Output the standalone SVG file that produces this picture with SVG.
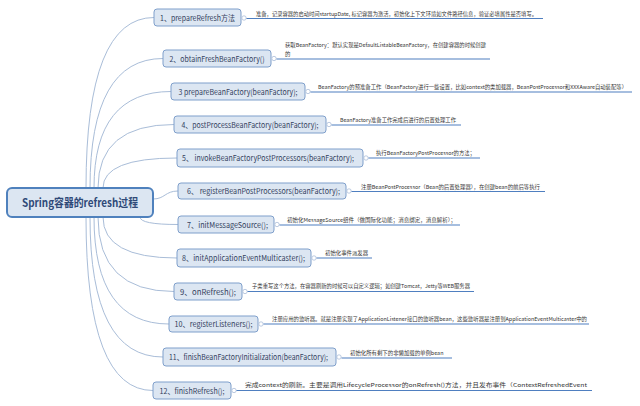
<svg xmlns="http://www.w3.org/2000/svg" width="640" height="406" viewBox="0 0 640 406">
<style>
text{font-family:"Noto Sans CJK SC","Liberation Sans",sans-serif}
.bg{fill:#ffffff}
.con{fill:none;stroke:#a9bdd8;stroke-width:1}
.box{fill:#dce6f2;stroke:#7f9fcb;stroke-width:1}
.root{fill:#dce6f2;stroke:#4f81bd;stroke-width:2}
.lbl{font-size:8px;fill:#34425e;text-anchor:middle}
.rootlbl{font-size:11px;font-weight:bold;fill:#2f4a78;text-anchor:middle}
.note{font-size:5.4px;fill:#333333}
.ul{stroke:#4f7fc0;stroke-width:1.1;fill:none}
.dot{fill:#ffffff;stroke:#a9bdd8;stroke-width:0.8}
</style>
<rect class="bg" x="0" y="0" width="640" height="406"/>
<g id="connectors">
<path class="con" d="M86,188 Q86,17.5 154,17.5"/>
<path class="con" d="M90,188 Q90,58.5 163,58.5"/>
<path class="con" d="M94,188 Q94,91.5 171,91.5"/>
<path class="con" d="M98,188 Q98,124.5 174,124.5"/>
<path class="con" d="M103,188 Q103,158 177,158"/>
<path class="con" d="M153,199 C165,199 165,191 178,191"/>
<path class="con" d="M140,217 Q140,224.5 178,224.5"/>
<path class="con" d="M103,217 Q103,258 177,258"/>
<path class="con" d="M98,217 Q98,291.5 174,291.5"/>
<path class="con" d="M94,217 Q94,324 169,324"/>
<path class="con" d="M90,217 Q90,357 163,357"/>
<path class="con" d="M86,217 Q86,390.5 153,390.5"/>
</g>
<g id="root">
<rect class="root" x="7" y="188" width="146" height="29" rx="5"/>
<text class="rootlbl" x="80" y="206.5" textLength="116" lengthAdjust="spacingAndGlyphs">Spring容器的refresh过程</text>
</g>
<g id="n1">
<rect class="box" x="154" y="9" width="87" height="17" rx="3"/>
<text class="lbl" x="197.5" y="20.5" textLength="75" lengthAdjust="spacingAndGlyphs">1、prepareRefresh方法</text>
<circle class="dot" cx="244" cy="18" r="2.2"/>
<line class="ul" x1="246.5" y1="18.5" x2="543" y2="18.5"/>
<text class="note" x="256" y="15.5" textLength="281" lengthAdjust="spacingAndGlyphs">准备，记录容器的启动时间startupDate, 标记容器为激活，初始化上下文环境如文件路径信息，验证必填属性是否填写。</text>
</g>
<g id="n2">
<rect class="box" x="163" y="50" width="108" height="17" rx="3"/>
<text class="lbl" x="217" y="61.5" textLength="95" lengthAdjust="spacingAndGlyphs">2、obtainFreshBeanFactory()</text>
<circle class="dot" cx="274" cy="58.5" r="2.2"/>
<line class="ul" x1="276.5" y1="59" x2="490" y2="59"/>
<text class="note" x="285" y="47" textLength="201" lengthAdjust="spacingAndGlyphs">获取BeanFactory：默认实现是DefaultListableBeanFactory，在创建容器的时候创建</text>
<text class="note" x="285" y="55.5">的</text>
</g>
<g id="n3">
<rect class="box" x="171" y="83" width="134" height="17" rx="3"/>
<text class="lbl" x="238" y="94.5" textLength="119" lengthAdjust="spacingAndGlyphs">3 prepareBeanFactory(beanFactory);</text>
<circle class="dot" cx="308" cy="91.5" r="2.2"/>
<line class="ul" x1="310.5" y1="92" x2="632" y2="92"/>
<text class="note" x="318" y="88.5" textLength="309" lengthAdjust="spacingAndGlyphs">BeanFactory的预准备工作（BeanFactory进行一些设置，比如context的类加载器，BeanPostProcessor和XXXAware自动装配等）</text>
</g>
<g id="n4">
<rect class="box" x="174" y="116" width="152" height="17" rx="3"/>
<text class="lbl" x="250" y="127.5" textLength="137" lengthAdjust="spacingAndGlyphs">4、postProcessBeanFactory(beanFactory);</text>
<circle class="dot" cx="329" cy="124.5" r="2.2"/>
<line class="ul" x1="331.5" y1="125" x2="461" y2="125"/>
<text class="note" x="340" y="121.5" textLength="116" lengthAdjust="spacingAndGlyphs">BeanFactory准备工作完成后进行的后置处理工作</text>
</g>
<g id="n5">
<rect class="box" x="177" y="149" width="186" height="18" rx="3"/>
<text class="lbl" x="268" y="161" textLength="172" lengthAdjust="spacingAndGlyphs">5、 invokeBeanFactoryPostProcessors(beanFactory);</text>
<circle class="dot" cx="366" cy="158" r="2.2"/>
<line class="ul" x1="368.5" y1="158" x2="480" y2="158"/>
<text class="note" x="376" y="155" textLength="99" lengthAdjust="spacingAndGlyphs">执行BeanFactoryPostProcessor的方法；</text>
</g>
<g id="n6">
<rect class="box" x="178" y="183" width="168" height="16" rx="3"/>
<text class="lbl" x="263.5" y="194" textLength="153" lengthAdjust="spacingAndGlyphs">6、  registerBeanPostProcessors(beanFactory);</text>
<circle class="dot" cx="349" cy="191" r="2.2"/>
<line class="ul" x1="351.5" y1="191.5" x2="545" y2="191.5"/>
<text class="note" x="361" y="188.5" textLength="179" lengthAdjust="spacingAndGlyphs">注册BeanPostProcessor（Bean的后置处理器），在创建bean的前后等执行</text>
</g>
<g id="n7">
<rect class="box" x="178" y="216" width="96" height="17" rx="3"/>
<text class="lbl" x="227.5" y="227.5" textLength="81" lengthAdjust="spacingAndGlyphs">7、initMessageSource();</text>
<circle class="dot" cx="277" cy="224.5" r="2.2"/>
<line class="ul" x1="279.5" y1="225" x2="460" y2="225"/>
<text class="note" x="287" y="221.5" textLength="169" lengthAdjust="spacingAndGlyphs">初始化MessageSource组件（做国际化功能；消息绑定，消息解析）；</text>
</g>
<g id="n8">
<rect class="box" x="177" y="249" width="134" height="18" rx="3"/>
<text class="lbl" x="243.5" y="261" textLength="123" lengthAdjust="spacingAndGlyphs">8、initApplicationEventMulticaster();</text>
<circle class="dot" cx="314" cy="258" r="2.2"/>
<line class="ul" x1="316.5" y1="258" x2="372" y2="258"/>
<text class="note" x="325" y="254.5">初始化事件派发器</text>
</g>
<g id="n9">
<rect class="box" x="174" y="283" width="68" height="17" rx="3"/>
<text class="lbl" x="208" y="294.5" textLength="56" lengthAdjust="spacingAndGlyphs">9、onRefresh();</text>
<circle class="dot" cx="245" cy="291.5" r="2.2"/>
<line class="ul" x1="247.5" y1="291.5" x2="474" y2="291.5"/>
<text class="note" x="252" y="287.5" textLength="218" lengthAdjust="spacingAndGlyphs">子类重写这个方法，在容器刷新的时候可以自定义逻辑；如创建Tomcat，Jetty等WEB服务器</text>
</g>
<g id="n10">
<rect class="box" x="169" y="316" width="89" height="16" rx="3"/>
<text class="lbl" x="213.5" y="327" textLength="78" lengthAdjust="spacingAndGlyphs">10、registerListeners();</text>
<circle class="dot" cx="261" cy="324" r="2.2"/>
<line class="ul" x1="263.5" y1="324" x2="589" y2="324"/>
<text class="note" x="272" y="320.5" textLength="315" lengthAdjust="spacingAndGlyphs">注册应用的监听器。就是注册实现了ApplicationListener接口的监听器bean，这些监听器是注册到ApplicationEventMulticaster中的</text>
</g>
<g id="n11">
<rect class="box" x="163" y="348" width="173" height="18" rx="3"/>
<text class="lbl" x="248.5" y="360" textLength="159" lengthAdjust="spacingAndGlyphs">11、finishBeanFactoryInitialization(beanFactory);</text>
<circle class="dot" cx="339" cy="357" r="2.2"/>
<line class="ul" x1="341.5" y1="358" x2="452" y2="358"/>
<text class="note" x="350" y="354.5">初始化所有剩下的非懒加载的单例bean</text>
</g>
<g id="n12">
<rect class="box" x="153" y="382" width="78" height="17" rx="3"/>
<text class="lbl" x="192" y="393.5" textLength="65" lengthAdjust="spacingAndGlyphs">12、finishRefresh();</text>
<circle class="dot" cx="234" cy="390.5" r="2.2"/>
<line class="ul" x1="236.5" y1="390.5" x2="592" y2="390.5"/>
<text class="note" x="245" y="386.5" textLength="342" lengthAdjust="spacingAndGlyphs">完成context的刷新。主要是调用LifecycleProcessor的onRefresh()方法，并且发布事件（ContextRefreshedEvent</text>
</g>
</svg>
